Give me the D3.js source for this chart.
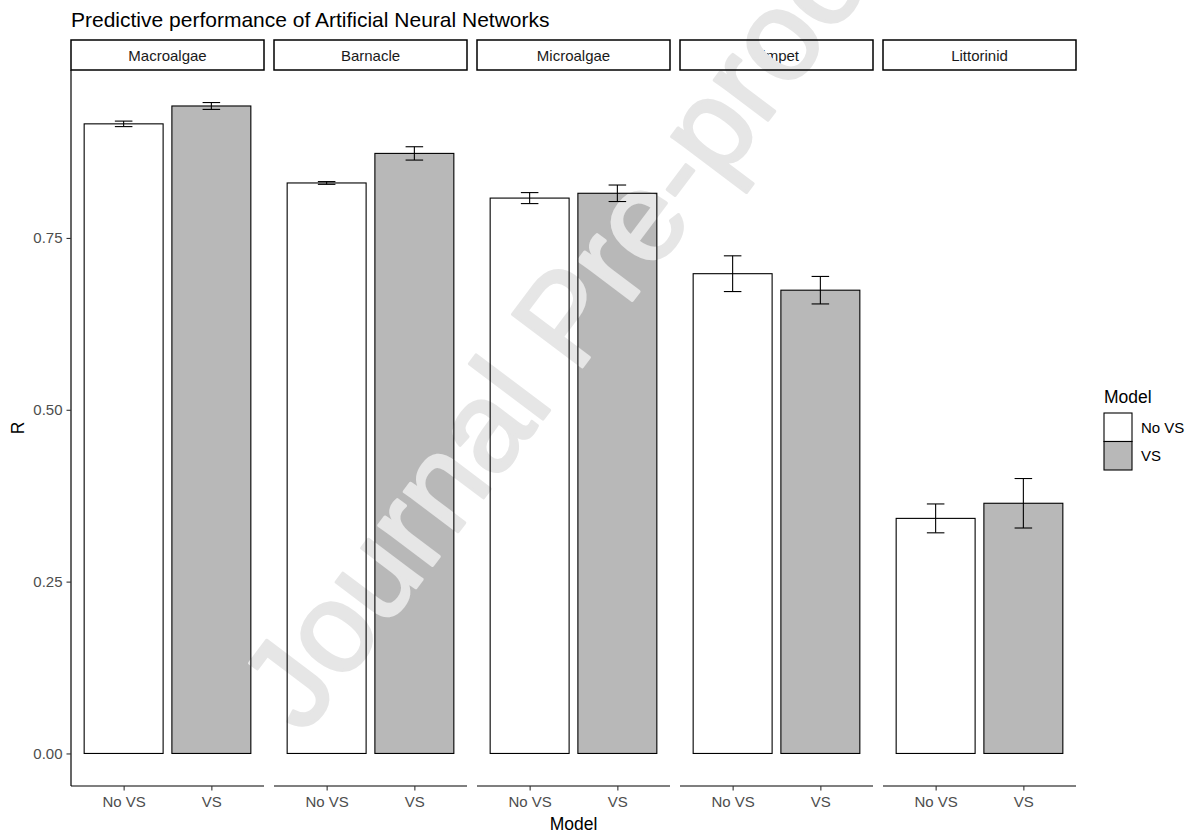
<!DOCTYPE html>
<html lang="en">
<head>
<meta charset="UTF-8">
<title>Predictive performance of Artificial Neural Networks</title>
<script src="https://d3js.org/d3.v7.min.js"></script>
<style>
    body { margin: 0; background: #fff; }
    svg { display: block; font-family: "Liberation Sans", Arial, sans-serif; }
    .tick-label { font-size: 15px; fill: #4d4d4d; }
    .strip-label { font-size: 15px; fill: #1a1a1a; text-anchor: middle; }
    .axis-title { font-size: 17.5px; fill: #000; }
</style>
</head>
<body>
<svg id="chart" width="1192" height="834"></svg>
<script>
// data
const species = ["Macroalgae", "Barnacle", "Microalgae", "Limpet", "Littorinid"];
const models = ["No VS", "VS"];
const meanNoVS = [0.916, 0.830, 0.808, 0.698, 0.342];
const meanVS = [0.942, 0.873, 0.815, 0.674, 0.364];
const seNoVS = [0.004, 0.002, 0.008, 0.026, 0.021];
const seVS = [0.005, 0.0097, 0.012, 0.020, 0.036];
const yTicks = [0, 0.25, 0.5, 0.75];

const rows = [];
species.forEach((s, i) => {
    rows.push({ species: s, model: "No VS", mean: meanNoVS[i], se: seNoVS[i] });
    rows.push({ species: s, model: "VS", mean: meanVS[i], se: seVS[i] });
});

const svg = d3.select("#chart");

const plotLeft = 71, plotRight = 1076;
const stripTop = 40, stripBottom = 70;
const panelTop = 70, panelBottom = 786;

const fill = d3.scaleOrdinal().domain(models).range(["#ffffff", "#b8b8b8"]);

// facet positions
const facet = d3.scaleBand()
    .domain(species)
    .range([plotLeft, plotRight])
    .paddingInner(10 / 203);
const panelW = facet.bandwidth();

// discrete x inside a panel (ggplot style: 0.6 expansion, bar width 0.9)
const x = d3.scaleBand()
    .domain(models)
    .range([0, panelW])
    .paddingInner(0.1)
    .paddingOuter(0.15);
const unit = x.step();

// y with 5% expansion
const yMax = d3.max(rows, d => d.mean + d.se);
const y = d3.scaleLinear()
    .domain([-0.05 * yMax, yMax * 1.05])
    .range([panelBottom, panelTop]);

// layers: fills and labels, then the watermark, then the lines on top
const back = svg.append("g");
const mark = svg.append("g");
const front = svg.append("g");

// title
back.append("text")
    .attr("x", plotLeft)
    .attr("y", 27)
    .style("font-size", "21px")
    .attr("fill", "#000")
    .text("Predictive performance of Artificial Neural Networks");

species.forEach(s => {
    const gb = back.append("g").attr("transform", `translate(${facet(s)},0)`);
    const gf = front.append("g").attr("transform", `translate(${facet(s)},0)`);

    // strip
    gb.append("rect")
        .attr("x", 0)
        .attr("y", stripTop)
        .attr("width", panelW)
        .attr("height", stripBottom - stripTop)
        .attr("fill", "#fff");
    gb.append("text")
        .attr("class", "strip-label")
        .attr("x", panelW / 2)
        .attr("y", (stripTop + stripBottom) / 2 + 5.5)
        .text(s);
    gf.append("rect")
        .attr("x", 0)
        .attr("y", stripTop)
        .attr("width", panelW)
        .attr("height", stripBottom - stripTop)
        .attr("fill", "none")
        .attr("stroke", "#000")
        .attr("stroke-width", 1.5);

    const data = rows.filter(d => d.species === s);

    // bars: fill below the watermark, outline above it
    gb.selectAll("rect.bar")
        .data(data)
        .join("rect")
        .attr("class", "bar")
        .attr("x", d => x(d.model))
        .attr("width", x.bandwidth())
        .attr("y", d => y(d.mean))
        .attr("height", d => y(0) - y(d.mean))
        .attr("fill", d => fill(d.model));
    gf.selectAll("rect.bar")
        .data(data)
        .join("rect")
        .attr("class", "bar")
        .attr("x", d => x(d.model))
        .attr("width", x.bandwidth())
        .attr("y", d => y(d.mean))
        .attr("height", d => y(0) - y(d.mean))
        .attr("fill", "none")
        .attr("stroke", "#000")
        .attr("stroke-width", 1.1);

    // error bars
    const eb = gf.selectAll("g.err")
        .data(data)
        .join("g")
        .attr("class", "err")
        .attr("transform", d => `translate(${x(d.model) + x.bandwidth() / 2},0)`);
    const cap = unit * 0.1;
    eb.append("line")
        .attr("x1", 0).attr("x2", 0)
        .attr("y1", d => y(d.mean + d.se))
        .attr("y2", d => y(d.mean - d.se))
        .attr("stroke", "#000").attr("stroke-width", 1.1);
    eb.append("line")
        .attr("x1", -cap).attr("x2", cap)
        .attr("y1", d => y(d.mean + d.se))
        .attr("y2", d => y(d.mean + d.se))
        .attr("stroke", "#000").attr("stroke-width", 1.1);
    eb.append("line")
        .attr("x1", -cap).attr("x2", cap)
        .attr("y1", d => y(d.mean - d.se))
        .attr("y2", d => y(d.mean - d.se))
        .attr("stroke", "#000").attr("stroke-width", 1.1);

    // x axis for every panel
    const xAxis = d3.axisBottom(
        d3.scalePoint().domain(models).range([x("No VS") + x.bandwidth() / 2, x("VS") + x.bandwidth() / 2])
    ).tickSize(4.5).tickPadding(6);
    const ax = gf.append("g")
        .attr("transform", `translate(0,${panelBottom})`)
        .call(xAxis);
    ax.select(".domain").attr("d", `M0,0H${panelW}`).attr("stroke", "#000").attr("stroke-width", 1.2);
    ax.selectAll(".tick line").attr("stroke", "#333").attr("stroke-width", 1.1);
    ax.selectAll(".tick text").attr("class", "tick-label").attr("font-family", null).attr("font-size", null);
});

// y axis on first panel only
const yAxis = d3.axisLeft(y)
    .tickValues(yTicks)
    .tickFormat(d3.format(".2f"))
    .tickSize(4.5)
    .tickPadding(4);
const ay = front.append("g")
    .attr("transform", `translate(${plotLeft},0)`)
    .call(yAxis);
ay.select(".domain").attr("d", `M0,${panelTop}V${panelBottom}`).attr("stroke", "#000").attr("stroke-width", 1.2);
ay.selectAll(".tick line").attr("stroke", "#333").attr("stroke-width", 1.1);
ay.selectAll(".tick text").attr("class", "tick-label").attr("font-family", null).attr("font-size", null);

// axis titles
front.append("text")
    .attr("class", "axis-title")
    .attr("x", (plotLeft + plotRight) / 2)
    .attr("y", 830)
    .attr("text-anchor", "middle")
    .text("Model");
front.append("text")
    .attr("class", "axis-title")
    .attr("transform", `translate(24,${(panelTop + panelBottom) / 2}) rotate(-90)`)
    .attr("text-anchor", "middle")
    .text("R");

// legend
const legend = front.append("g").attr("transform", "translate(1104,413)");
legend.append("text")
    .attr("class", "axis-title")
    .attr("x", 0)
    .attr("y", -10)
    .text("Model");
models.forEach((m, i) => {
    legend.append("rect")
        .attr("x", 0)
        .attr("y", i * 28.5)
        .attr("width", 28)
        .attr("height", 28.5)
        .attr("fill", fill(m))
        .attr("stroke", "#000")
        .attr("stroke-width", 1.1);
    legend.append("text")
        .attr("x", 37)
        .attr("y", i * 28.5 + 14.25 + 5.5)
        .style("font-size", "15px")
        .attr("fill", "#000")
        .text(m);
});

// watermark
mark.append("text")
    .attr("transform", "translate(304,736) rotate(-53)")
    .style("font-size", "127px")
    .attr("fill", "#e6e6e6")
    .attr("stroke", "#e6e6e6")
    .attr("stroke-width", 3)
    .attr("stroke-linejoin", "round")
    .text("Journal Pre-proof");
</script>
</body>
</html>
